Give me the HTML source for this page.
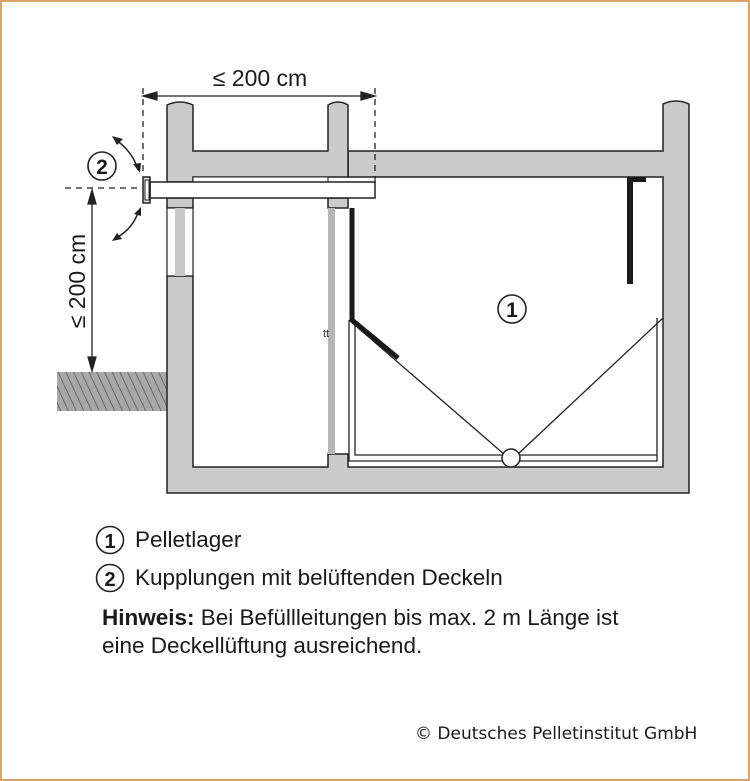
<!DOCTYPE html>
<html><head><meta charset="utf-8"><style>
html,body{margin:0;padding:0;background:#fff;}
.wrap{position:relative;width:750px;height:781px;box-sizing:border-box;border:2px solid #d9a46a;overflow:hidden;}
svg{position:absolute;left:-2px;top:-2px;}
.t{position:absolute;font-family:"Liberation Sans",Arial,sans-serif;font-size:22.5px;color:#1a1a1a;white-space:nowrap;}
</style></head><body><div class="wrap">
<svg width="750" height="781" viewBox="0 0 750 781">
<defs>
<pattern id="h" width="7" height="7" patternUnits="userSpaceOnUse" patternTransform="rotate(-25)">
<rect width="7" height="7" fill="#a8a8a8"/><line x1="0" y1="0" x2="0" y2="7" stroke="#555" stroke-width="1.5"/>
</pattern>
</defs>
<rect x="57" y="372" width="110" height="39" fill="url(#h)"/>
<g fill="#cbcbcb" stroke="#222" stroke-width="1.5">
<path d="M348 151 L663 151 L663 104 Q676 98 689 104 L689 493 L167 493 L167 276 L193 276 L193 467 L328 467 L328 454 L348 454 L348 467 L663 467 L663 177 L348 177 Z"/>
<path d="M167 105 Q180 99 193 105 L193 151 L328 151 L328 105 Q338 99 348 105 L348 177 L328 177 L328 177 L193 177 L193 182 L167 182 Z"/>
<rect x="167" y="198" width="26" height="10"/>
<rect x="328" y="198" width="20" height="10"/>
</g>
<rect x="167" y="208" width="26" height="68" fill="#fff" stroke="#222" stroke-width="1.2"/>
<rect x="175" y="208" width="10" height="68" fill="#c8c8c8"/>
<rect x="328" y="208" width="7" height="246" fill="#b3b7ba"/>
<text x="323" y="337" font-family="Liberation Sans,sans-serif" font-size="11" fill="#333">tt</text>
<rect x="193" y="177" width="135" height="5" fill="#fff" stroke="#222" stroke-width="1"/>
<rect x="150" y="182" width="225" height="16" fill="#fff" stroke="#222" stroke-width="1.5"/>
<rect x="143" y="177" width="7" height="26" fill="#ddd" stroke="#222" stroke-width="1.5"/>
<rect x="145" y="180" width="4" height="20" fill="#fff" stroke="#222" stroke-width="1"/>
<g fill="none" stroke="#222" stroke-width="1.3">
<polyline points="349,320 349,461 657,461 657,318"/>
<polyline points="355,320 355,455 657,455"/>
<line x1="349" y1="320" x2="505" y2="455"/>
<line x1="663" y1="318" x2="517" y2="455"/>
</g>
<circle cx="511" cy="458" r="9" fill="#fff" stroke="#222" stroke-width="1.5"/>
<polyline points="352,208 352,320 398,358" fill="none" stroke="#1a1a1a" stroke-width="5"/>
<rect x="627" y="177" width="19" height="5" fill="#1a1a1a"/>
<rect x="627" y="177" width="6" height="107" fill="#1a1a1a"/>
<g stroke="#222" stroke-width="1.3" stroke-dasharray="6,5" fill="none">
<line x1="143" y1="88" x2="143" y2="176"/>
<line x1="375" y1="88" x2="375" y2="182"/>
<line x1="65" y1="188" x2="142" y2="188"/>
</g>
<g stroke="#222" stroke-width="1.3" fill="#222">
<line x1="150" y1="96" x2="368" y2="96"/>
<path d="M143 96 L157 92 L157 100 Z"/>
<path d="M375 96 L361 92 L361 100 Z"/>
<line x1="92" y1="198" x2="92" y2="362"/>
<path d="M92 190 L88 204 L96 204 Z"/>
<path d="M92 371 L88 357 L96 357 Z"/>
</g>
<text x="260" y="86" text-anchor="middle" font-family="Liberation Sans,sans-serif" font-size="23" fill="#1a1a1a">≤ 200 cm</text>
<text transform="translate(85,281) rotate(-90)" text-anchor="middle" font-family="Liberation Sans,sans-serif" font-size="23" fill="#1a1a1a">≤ 200 cm</text>
<g stroke="#222" stroke-width="1.5" fill="none">
<path d="M116 140 Q133 152 138 170"/>
<path d="M139 210 Q133 229 116 238"/>
</g>
<g fill="#222">
<path d="M112 136 L123 139 L117 145 Z"/>
<path d="M140 173 L133 164 L141 163 Z"/>
<path d="M141 207 L141 216 L134 214 Z"/>
<path d="M112 241 L117 233 L122 239 Z"/>
</g>
<circle cx="102" cy="166" r="14" fill="#fff" stroke="#222" stroke-width="1.6"/>
<text x="102" y="174" text-anchor="middle" font-family="Liberation Sans,sans-serif" font-weight="bold" font-size="21" fill="#1a1a1a">2</text>
<circle cx="512" cy="309" r="14" fill="#fff" stroke="#222" stroke-width="1.6"/>
<text x="512" y="317" text-anchor="middle" font-family="Liberation Sans,sans-serif" font-weight="bold" font-size="21" fill="#1a1a1a">1</text>
<circle cx="110" cy="540" r="13.5" fill="#fff" stroke="#222" stroke-width="1.6"/>
<text x="110" y="548" text-anchor="middle" font-family="Liberation Sans,sans-serif" font-weight="bold" font-size="20" fill="#1a1a1a">1</text>
<circle cx="110" cy="578" r="13.5" fill="#fff" stroke="#222" stroke-width="1.6"/>
<text x="110" y="586" text-anchor="middle" font-family="Liberation Sans,sans-serif" font-weight="bold" font-size="20" fill="#1a1a1a">2</text>
</svg>
<div class="t" style="left:133px;top:525px;">Pelletlager</div>
<div class="t" style="left:133px;top:563px;">Kupplungen mit belüftenden Deckeln</div>
<div class="t" style="left:100px;top:603px;"><b>Hinweis:</b> Bei Befüllleitungen bis max. 2 m Länge ist</div>
<div class="t" style="left:100px;top:631px;">eine Deckellüftung ausreichend.</div>
<div class="t" style="left:413px;top:722px;font-size:17px;font-family:'DejaVu Sans','Liberation Sans',sans-serif;">© Deutsches Pelletinstitut GmbH</div>
</div></body></html>
